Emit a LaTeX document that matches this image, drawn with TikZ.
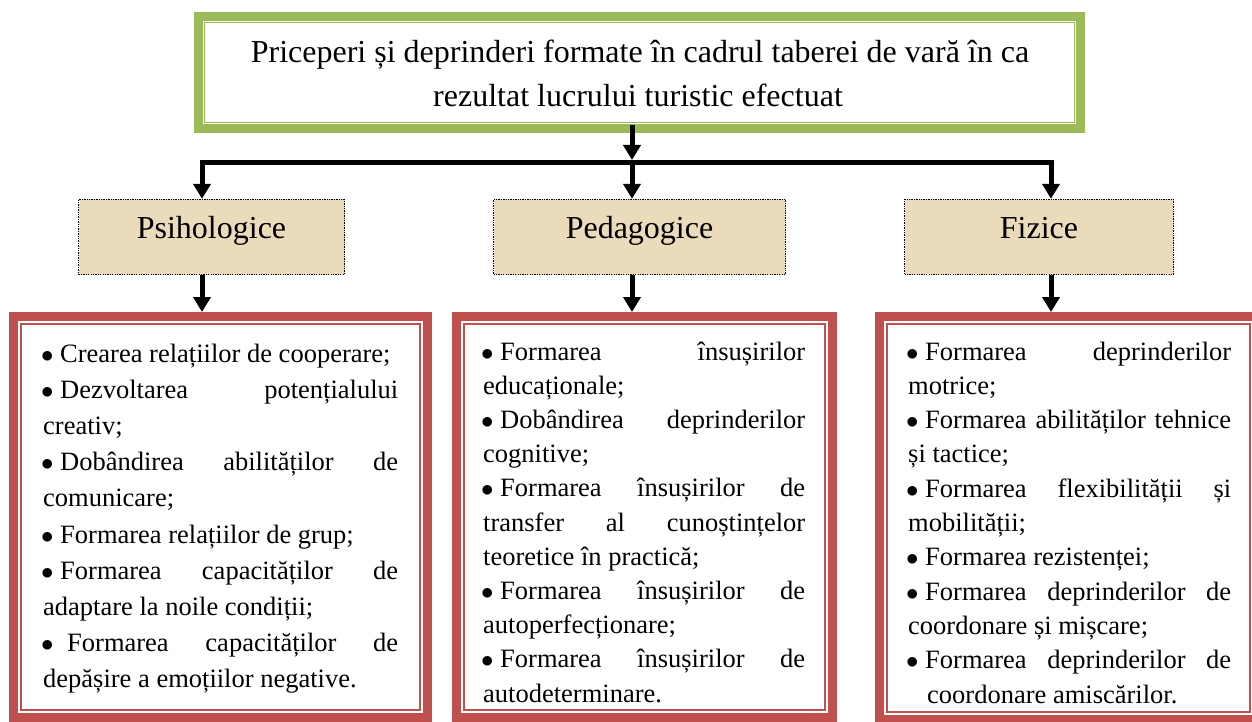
\documentclass[tikz,border=0pt]{standalone}
\usepackage{fontspec}
\setmainfont{Liberation Serif}
\usetikzlibrary{arrows.meta,calc}
\definecolor{gband}{HTML}{9BBB59}
\definecolor{rband}{HTML}{C0504D}
\definecolor{parch}{RGB}{234,220,186}
\newcommand\bul{\hbox to 17pt{\kern-2pt$\bullet$\hss}}
\newcommand\jl[1]{\hbox to\hsize{\spaceskip=0.25em plus 1fil\relax #1}}
\newcommand\nl[1]{\hbox{#1}}
\tikzset{
  gframe/.style={draw=gband, line width=9pt, inner sep=0pt},
  rframe/.style={draw=rband, line width=9pt, inner sep=0pt, minimum height=401pt},
  catbox/.style={draw=black, fill=parch, line width=1.3pt, dash pattern=on 1.3pt off 1.1pt,
    minimum height=75pt, inner sep=0pt, text height=12pt, text depth=10pt,
    font=\fontsize{32}{38}\selectfont},
  conn/.style={line width=5pt, line join=miter, -{Triangle[width=17pt,length=15pt]}},
  listtext/.style={anchor=base west, inner sep=0pt},
  ttl/.style={anchor=base, inner sep=0pt, font=\fontsize{32}{44}\selectfont}
}
\begin{document}
\begin{tikzpicture}[x=1pt,y=-1pt]
\useasboundingbox (0,0) rectangle (1252,722);
\clip (0,0) rectangle (1252,722);
% title frame
\node[gframe, minimum width=882pt, minimum height=112pt] (title) at (639.5,72.5) {};
\draw[gband, line width=1.5pt] ([shift={(10.5,10.5)}]title.north west) rectangle ([shift={(-10.5,-10.5)}]title.south east);
\node[ttl] (t1) at (640,63) {Priceperi și deprinderi formate în cadrul taberei de vară în ca};
\node[ttl] (t2) at (638,107) {rezultat lucrului turistic efectuat};
% categories
\node[catbox, minimum width=266pt] (psi) at (211.5,237) {Psihologice};
\node[catbox, minimum width=292pt] (ped) at (639.5,237) {Pedagogice};
\node[catbox, minimum width=269pt] (fiz) at (1039,237) {Fizice};
% red frames
\node[rframe, minimum width=414pt] (lpsi) at (220.5,517) {};
\node[rframe, minimum width=376pt] (lped) at (644.5,517) {};
\node[rframe, minimum width=378pt, minimum height=403pt] (lfiz) at (1068.5,518) {};
\foreach \f in {lpsi,lped,lfiz}{
  \draw[rband, line width=2pt] ([shift={(12,12)}]\f.north west) rectangle ([shift={(-12,-12)}]\f.south east);
}
% list texts
\node[listtext, font=\fontsize{26.5}{36.2}\selectfont] (tpsi) at (43,362) {\vtop{\hsize=355pt
\nl{\bul Crearea relațiilor de cooperare;}
\jl{\bul Dezvoltarea potențialului}
\nl{creativ;}
\jl{\bul Dobândirea abilităților de}
\nl{comunicare;}
\nl{\bul Formarea relațiilor de grup;}
\jl{\bul Formarea capacităților de}
\nl{adaptare la noile condiții;}
\jl{\bul\hspace{7pt}Formarea capacităților de}
\nl{depășire a emoțiilor negative.}
}};
\node[listtext, font=\fontsize{26.5}{34.2}\selectfont] (tped) at (483,360) {\vtop{\hsize=322pt
\jl{\bul Formarea însușirilor}
\nl{educaționale;}
\jl{\bul Dobândirea deprinderilor}
\nl{cognitive;}
\jl{\bul Formarea însușirilor de}
\jl{transfer al cunoștințelor}
\nl{teoretice în practică;}
\jl{\bul Formarea însușirilor de}
\nl{autoperfecționare;}
\jl{\bul Formarea însușirilor de}
\nl{autodeterminare.}
}};
\node[listtext, font=\fontsize{26.5}{34.3}\selectfont] (tfiz) at (908,360) {\vtop{\hsize=323pt
\jl{\bul Formarea deprinderilor}
\nl{motrice;}
\jl{\bul Formarea abilităților tehnice}
\nl{și tactice;}
\jl{\bul Formarea flexibilității și}
\nl{mobilității;}
\nl{\bul Formarea rezistenței;}
\jl{\bul Formarea deprinderilor de}
\nl{coordonare și mișcare;}
\jl{\bul Formarea deprinderilor de}
\nl{\hspace*{19pt}coordonare amiscărilor.}
}};
% connectors
\coordinate (j1) at (202,163);
\coordinate (j2) at (632,163);
\coordinate (j3) at (1051,163);
\draw[conn, {Triangle[width=17pt,length=15pt]}-{Triangle[width=17pt,length=15pt]}]
  (psi.north -| j1) -- (j1) -- (j3) -- (fiz.north -| j3);
\draw[conn] ($(title.south -| j2)+(0,-8)$) -- ($(j2)+(0,-3)$);
\draw[conn] (j2) -- (ped.north -| j2);
\draw[conn] (psi.south -| j1) -- (lpsi.north -| j1);
\draw[conn] (ped.south -| j2) -- (lped.north -| j2);
\draw[conn] (fiz.south -| j3) -- (lfiz.north -| j3);
\end{tikzpicture}
\end{document}
